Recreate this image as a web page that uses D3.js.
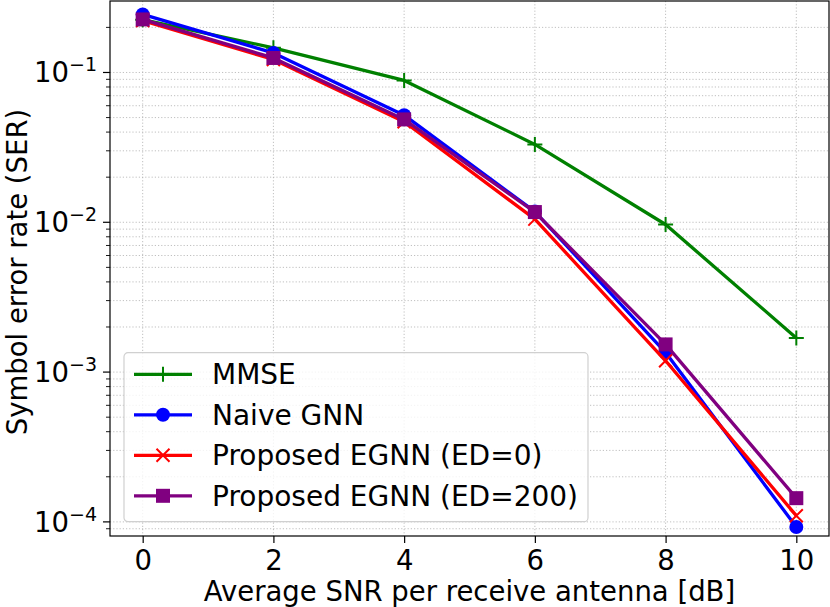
<!DOCTYPE html>
<html>
<head>
<meta charset="utf-8">
<script src="https://cdn.jsdelivr.net/npm/d3@7"></script>
<style>
  body { margin: 0; background: #fff; }
  text { font-family: "DejaVu Sans", sans-serif; fill: #000; }
</style>
</head>
<body>
<script>
const snr = [0, 2, 4, 6, 8, 10];
const mmse = [0.225, 0.146, 0.0885, 0.0331, 0.00966, 0.00169];
const naiveGnn = [0.244, 0.135, 0.0519, 0.0118, 0.00135, 0.0000925];
const egnnEd0 = [0.222, 0.122, 0.0469, 0.0105, 0.00119, 0.000110];
const egnnEd200 = [0.226, 0.125, 0.0486, 0.0117, 0.00153, 0.000144];
const seriesNames = ["MMSE", "Naive GNN", "Proposed EGNN (ED=0)", "Proposed EGNN (ED=200)"];
const xTicks = [0, 2, 4, 6, 8, 10];
const yTickExps = [-1, -2, -3, -4];

const w = 830, h = 607;
const margin = {top: 1, right: 1, bottom: 71, left: 110};
const width = w - margin.left - margin.right;
const height = h - margin.top - margin.bottom;
const fs = 27.5;

const svg = d3.select("body").append("svg")
  .attr("width", w).attr("height", h);

const chart = svg.append("g")
  .attr("transform", "translate(" + margin.left + "," + margin.top + ")");

const x = d3.scaleLinear().domain([-0.5, 10.5]).range([0, width]);
const y = d3.scaleLog().domain([8.05e-5, 0.3]).range([height, 0]);

// minor log ticks
const minor = [];
for (let e = -5; e <= -1; e++) {
  for (let k = 2; k <= 9; k++) {
    const v = k * Math.pow(10, e);
    if (v >= y.domain()[0] && v <= y.domain()[1]) minor.push(v);
  }
}
const major = yTickExps.map(e => Math.pow(10, e));

// grid
const grid = chart.append("g").attr("stroke", "#b0b0b0").attr("stroke-width", 0.8)
  .attr("stroke-dasharray", "1.2,2");
grid.selectAll(".gy").data(major.concat(minor)).enter().append("line")
  .attr("x1", 0).attr("x2", width)
  .attr("y1", d => y(d)).attr("y2", d => y(d));
grid.selectAll(".gx").data(xTicks).enter().append("line")
  .attr("y1", 0).attr("y2", height)
  .attr("x1", d => x(d)).attr("x2", d => x(d));

// series
const series = [
  {name: seriesNames[0], values: mmse, color: "green", marker: "plus"},
  {name: seriesNames[1], values: naiveGnn, color: "blue", marker: "circle"},
  {name: seriesNames[2], values: egnnEd0, color: "red", marker: "x"},
  {name: seriesNames[3], values: egnnEd200, color: "purple", marker: "square"}
];

function drawMarker(g, type, color) {
  if (type === "circle") {
    g.append("circle").attr("r", 7).attr("fill", color);
  } else if (type === "square") {
    g.append("rect").attr("x", -7).attr("y", -7).attr("width", 14).attr("height", 14).attr("fill", color);
  } else if (type === "plus") {
    g.append("path").attr("d", "M-7.5,0H7.5M0,-7.5V7.5").attr("stroke", color).attr("stroke-width", 2).attr("fill", "none");
  } else if (type === "x") {
    g.append("path").attr("d", "M-6.5,-6.5L6.5,6.5M-6.5,6.5L6.5,-6.5").attr("stroke", color).attr("stroke-width", 2).attr("fill", "none");
  }
}

const line = d3.line().x(d => x(d[0])).y(d => y(d[1]));
const plot = chart.append("g");
series.forEach(s => {
  const pts = snr.map((v, i) => [v, s.values[i]]);
  const g = plot.append("g");
  g.append("path").datum(pts).attr("d", line)
    .attr("fill", "none").attr("stroke", s.color).attr("stroke-width", 3.3)
    .attr("stroke-linejoin", "round");
  pts.forEach(p => {
    const m = g.append("g").attr("transform", "translate(" + x(p[0]) + "," + y(p[1]) + ")");
    drawMarker(m, s.marker, s.color);
  });
});

// axes
const xAxis = d3.axisBottom(x).tickValues(xTicks).tickSize(7).tickPadding(7.7);
const gx = chart.append("g").attr("transform", "translate(0," + height + ")").call(xAxis);
gx.select(".domain").remove();
gx.selectAll("line").attr("stroke-width", 1.2);
gx.selectAll("text").attr("font-size", fs).attr("font-family", "DejaVu Sans");

const gy = chart.append("g");
gy.selectAll(".tmaj").data(major).enter().append("line")
  .attr("x1", -7).attr("x2", 0).attr("y1", d => y(d)).attr("y2", d => y(d))
  .attr("stroke", "#000").attr("stroke-width", 1.2);
gy.selectAll(".tmin").data(minor).enter().append("line")
  .attr("x1", -4).attr("x2", 0).attr("y1", d => y(d)).attr("y2", d => y(d))
  .attr("stroke", "#000").attr("stroke-width", 0.9);
const yl = gy.selectAll(".tl").data(yTickExps).enter().append("text")
  .attr("x", -13).attr("y", e => y(Math.pow(10, e)) + 9.7)
  .attr("text-anchor", "end").attr("font-size", fs);
yl.append("tspan").text("10");
yl.append("tspan").attr("dy", -11).attr("font-size", 19).text(e => "\u2212" + Math.abs(e));

chart.append("rect").attr("width", width).attr("height", height)
  .attr("fill", "none").attr("stroke", "#000").attr("stroke-width", 1.2);

// labels
svg.append("text").attr("x", margin.left + width / 2).attr("y", 601)
  .attr("text-anchor", "middle").attr("font-size", fs)
  .text("Average SNR per receive antenna [dB]");
svg.append("text").attr("transform", "translate(26.5," + 272 + ") rotate(-90)")
  .attr("text-anchor", "middle").attr("font-size", fs)
  .text("Symbol error rate (SER)");

// legend
const legend = chart.append("g").attr("transform", "translate(14,351.7)");
legend.append("rect").attr("width", 464).attr("height", 169).attr("rx", 4)
  .attr("fill", "#fff").attr("fill-opacity", 0.8).attr("stroke", "#d0d0d0").attr("stroke-width", 1.2);
series.forEach((s, i) => {
  const gy0 = 21.6 + i * 40.5;
  const it = legend.append("g").attr("transform", "translate(0," + gy0 + ")");
  it.append("line").attr("x1", 10).attr("x2", 68).attr("stroke", s.color).attr("stroke-width", 3.3);
  const m = it.append("g").attr("transform", "translate(39,0)");
  drawMarker(m, s.marker, s.color);
  it.append("text").attr("x", 88).attr("y", 10).attr("font-size", 28).text(s.name);
});
</script>
</body>
</html>
